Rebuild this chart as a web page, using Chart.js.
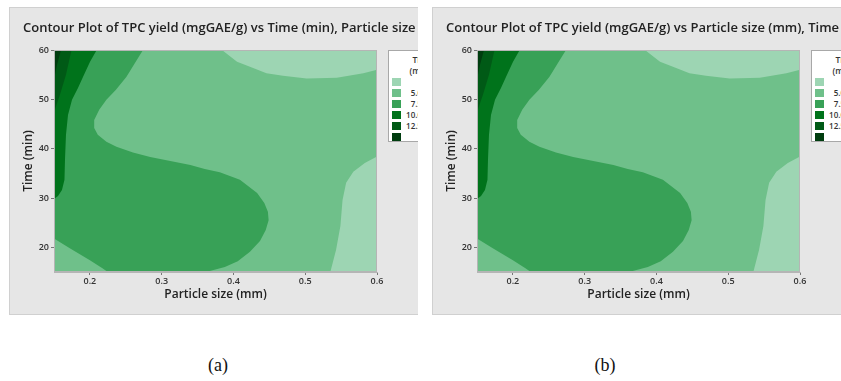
<!DOCTYPE html>
<html>
<head>
<meta charset="utf-8">
<script src="https://cdn.jsdelivr.net/npm/chart.js@4.4.1/dist/chart.umd.min.js"></script>
<style>
  html, body { margin: 0; padding: 0; background: #fff; }
  body { width: 841px; height: 381px; position: relative; overflow: hidden; font-family: 'Open Sans', sans-serif; }
  .panel { position: absolute; top: 7px; width: 409px; height: 308px; background: #e6e6e6; overflow: hidden;
           box-shadow: inset 1px 1px 0 #d0d0d0, inset 0 -1px 0 #d0d0d0; }
  .panel canvas { position: absolute; left: 0; top: 0; }
  .ttl { position: absolute; left: 14px; top: 11px; white-space: nowrap; font-size: 13px; font-weight: 600; color: #222; }
  .lgd { position: absolute; left: 379px; top: 43px; width: 84px; height: 92px; background: #fff; border: 1px solid #a8a8a8; box-sizing: border-box;
         font-size: 8px; font-weight: 600; color: #333; line-height: 11px; }
  .lgd .lt { position: absolute; left: 0; width: 84px; text-align: center; font-size: 8.5px; }
  .lgd .sw { position: absolute; left: 3px; width: 9px; height: 8px; }
  .lgd .c1 { position: absolute; width: 33px; left: 0; text-align: right; }
  .lgd .c2 { position: absolute; width: 10px; left: 33px; text-align: center; }
  .lgd .c3 { position: absolute; left: 43px; white-space: nowrap; }
  .cap { position: absolute; top: 355px; width: 60px; text-align: center; font-family: 'Liberation Serif', serif; font-size: 18px; color: #111; }
</style>
</head>
<body>
<div class="panel" id="pa" style="left:9px"><canvas id="ca" width="409" height="308"></canvas></div>
<div class="panel" id="pb" style="left:432px"><canvas id="cb" width="409" height="308"></canvas></div>
<div class="cap" style="left:188px">(a)</div>
<div class="cap" style="left:575px">(b)</div>
<script>
// ticks and legend
const xTicks = [0.2, 0.3, 0.4, 0.5, 0.6];
const yTicks = [20, 30, 40, 50, 60];
const legendTitle = ['TPC yield', '(mgGAE/g)'];
const levelFrom = ['', '5.0', '7.5', '10.0', '12.5', ''];
const levelSep = ['<', '–', '–', '–', '–', '>'];
const levelTo = ['5.0', '7.5', '10.0', '12.5', '15.0', '15.0'];
const palette = ['#9dd5b3', '#6fc08a', '#38a157', '#00731b', '#005a16', '#003d0f'];

// contour regions, [particle size (mm), time (min)]
const region5to75 = [[0.15, 15], [0.6, 15], [0.6, 60], [0.15, 60]];
const regionBelow5Top = [
  [0.384, 60], [0.405, 57.6], [0.423, 56.6], [0.446, 55.3], [0.469, 54.8],
  [0.502, 54.2], [0.544, 54.4], [0.581, 55.3], [0.6, 56.0], [0.6, 60]
];
const regionBelow5Right = [
  [0.6, 38.4], [0.583, 37.1], [0.567, 35.3], [0.557, 33.1], [0.552, 29.6],
  [0.549, 24.3], [0.543, 19.5], [0.535, 15], [0.6, 15]
];
const region75to10 = [
  [0.274, 60], [0.263, 57.4], [0.251, 54.6], [0.236, 51.9], [0.223, 49.9],
  [0.213, 47.9], [0.206, 45.8], [0.206, 44.2], [0.211, 42.8], [0.223, 41.4],
  [0.237, 40.4], [0.260, 39.2], [0.284, 38.3], [0.312, 37.5], [0.340, 36.7],
  [0.360, 35.9], [0.381, 35.2], [0.409, 33.7], [0.433, 31.0], [0.443, 29.0],
  [0.448, 27.2], [0.449, 25.5], [0.445, 23.5], [0.437, 21.3], [0.423, 19.1],
  [0.406, 17.2], [0.388, 16.0], [0.367, 15.2], [0.353, 15], [0.225, 15],
  [0.218, 15.7], [0.200, 17.4], [0.172, 19.8], [0.15, 21.8], [0.15, 60]
];
const region10to125 = [
  [0.2095, 60], [0.2002, 57.6], [0.1918, 55.0], [0.1834, 52.3], [0.1751, 49.9],
  [0.1695, 46.8], [0.1667, 42.8], [0.1653, 37.7], [0.1646, 33.7], [0.1611, 31.6],
  [0.1556, 30.4], [0.15, 29.8], [0.15, 60]
];
const region125to15 = [
  [0.1744, 60], [0.1667, 55.0], [0.1584, 51.0], [0.1521, 48.3], [0.15, 47.3], [0.15, 60]
];
const regionAbove15 = [[0.1598, 60], [0.1542, 57.0], [0.15, 54.0], [0.15, 60]];

const FONT = "'Open Sans', sans-serif";

const framePlugin = {
  id: 'frame',
  afterDraw(chart) {
    const { ctx, chartArea: a } = chart;
    ctx.save();
    ctx.strokeStyle = '#b5b5b5';
    ctx.lineWidth = 1;
    ctx.strokeRect(a.left + 0.5, a.top + 0.5, a.width - 1, a.height - 1);
    ctx.restore();
  }
};

function makeChart(canvas) {
  // bottom layer first
  const layers = [
    [region5to75, palette[1]],
    [regionBelow5Top, palette[0]],
    [regionBelow5Right, palette[0]],
    [region75to10, palette[2]],
    [region10to125, palette[3]],
    [region125to15, palette[4]],
    [regionAbove15, palette[5]]
  ];
  const tickFont = { family: FONT, size: 9, weight: '600' };
  const titleFont = { family: FONT, size: 12, weight: '600' };
  return new Chart(canvas, {
    type: 'scatter',
    data: {
      datasets: layers.map(([pts, color], i) => ({
        data: pts.map(([x, y]) => ({ x, y })),
        showLine: true,
        fill: 'shape',
        backgroundColor: color,
        borderWidth: 0,
        pointRadius: 0,
        tension: 0,
        order: layers.length - i
      }))
    },
    options: {
      responsive: false,
      animation: false,
      events: [],
      layout: { padding: { left: 0, right: 41, top: 43, bottom: 0 } },
      plugins: { legend: { display: false }, tooltip: { enabled: false } },
      scales: {
        x: {
          type: 'linear', min: 0.15, max: 0.6,
          afterFit: s => { s.height = 43; },
          afterBuildTicks: s => { s.ticks = xTicks.map(v => ({ value: v })); },
          ticks: { font: tickFont, color: '#333', padding: 1, maxRotation: 0, autoSkip: false, callback: v => String(v) },
          grid: { drawOnChartArea: false, tickLength: 3, color: '#777' },
          border: { color: '#b5b5b5' },
          title: { display: true, text: 'Particle size (mm)', font: titleFont, color: '#222', padding: { top: 0, bottom: 13 } }
        },
        y: {
          min: 15, max: 60,
          afterFit: s => { s.width = 45; },
          afterBuildTicks: s => { s.ticks = yTicks.map(v => ({ value: v })); },
          ticks: { font: tickFont, color: '#333', padding: 2, autoSkip: false },
          grid: { drawOnChartArea: false, tickLength: 3, color: '#777' },
          border: { color: '#b5b5b5' },
          title: { display: true, text: 'Time (min)', font: titleFont, color: '#222', padding: { top: 12, bottom: 0 } }
        }
      }
    },
    plugins: [framePlugin]
  });
}

function addTexts(panel, title) {
  const t = document.createElement('div');
  t.className = 'ttl';
  t.textContent = title;
  panel.appendChild(t);

  const lg = document.createElement('div');
  lg.className = 'lgd';
  legendTitle.forEach((s, i) => {
    const d = document.createElement('div');
    d.className = 'lt';
    d.style.top = (3 + i * 11) + 'px';
    d.textContent = s;
    lg.appendChild(d);
  });
  levelTo.forEach((_, i) => {
    const top = 25 + i * 11;
    const sw = document.createElement('div');
    sw.className = 'sw';
    sw.style.top = (top + 1.5) + 'px';
    sw.style.background = palette[i];
    lg.appendChild(sw);
    [['c1', levelFrom[i]], ['c2', levelSep[i]], ['c3', levelTo[i]]].forEach(([c, s]) => {
      const d = document.createElement('span');
      d.className = c;
      d.style.top = top + 'px';
      d.textContent = s;
      lg.appendChild(d);
    });
  });
  panel.appendChild(lg);
}

addTexts(document.getElementById('pa'), 'Contour Plot of TPC yield (mgGAE/g) vs Time (min), Particle size (mm)');
addTexts(document.getElementById('pb'), 'Contour Plot of TPC yield (mgGAE/g) vs Particle size (mm), Time (min)');
makeChart(document.getElementById('ca'));
makeChart(document.getElementById('cb'));
</script>
</body>
</html>
